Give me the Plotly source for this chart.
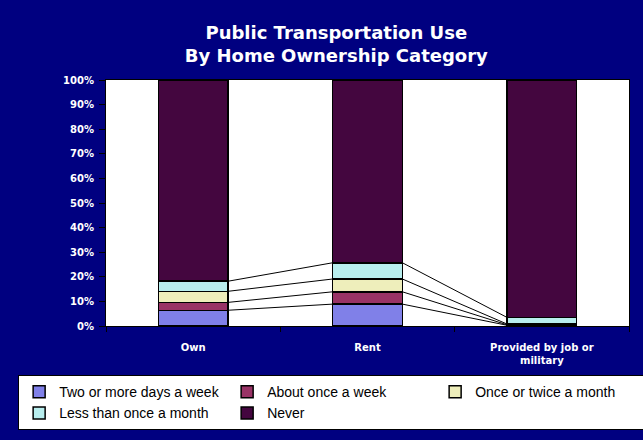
import plotly.graph_objects as go

categories = ["Own", "Rent", "Provided by job or<br>military"]
series_names = ["Two or more days a week", "About once a week",
                "Once or twice a month", "Less than once a month", "Never"]
two_or_more = [6.4, 8.9, 0.3]
once_a_week = [3.2, 5.0, 0.2]
once_twice_month = [4.5, 5.2, 0.3]
less_than_month = [4.1, 6.6, 2.7]
never = [81.8, 74.3, 96.5]

series_values = [two_or_more, once_a_week, once_twice_month, less_than_month, never]
colors = ["#8080E8", "#993366", "#EEEEBB", "#B8EEEE", "#44063F"]
y_ticks = list(range(0, 101, 10))
bar_width = 0.4

x_pos = list(range(len(categories)))

fig = go.Figure()
for name, vals, col in zip(series_names, series_values, colors):
    fig.add_trace(go.Bar(
        x=x_pos, y=vals, name=name, width=bar_width,
        marker=dict(color=col, line=dict(color="black", width=1.5)),
    ))

# Excel-style series lines joining the tops of each segment
cum = [0.0] * len(categories)
for vals in series_values[:-1]:
    cum = [c + v for c, v in zip(cum, vals)]
    for i in range(len(categories) - 1):
        fig.add_trace(go.Scatter(
            x=[x_pos[i] + bar_width / 2, x_pos[i + 1] - bar_width / 2],
            y=[cum[i], cum[i + 1]],
            mode="lines", line=dict(color="black", width=1),
            showlegend=False, hoverinfo="skip",
        ))

bold = "DejaVu Sans"

fig.update_layout(
    width=643, height=440,
    barmode="stack",
    paper_bgcolor="#000080",
    plot_bgcolor="white",
    margin=dict(l=106, r=14, t=80, b=114, autoexpand=False),
    title=dict(
        text="<b>Public Transportation Use<br>By Home Ownership Category</b>",
        x=0.523, xanchor="center", y=0.912, yanchor="top",
        font=dict(family=bold, size=18, color="white"),
    ),
    font=dict(family=bold),
    legend=dict(
        orientation="h", xref="paper", yref="paper",
        x=-0.168, xanchor="left", y=-0.2, yanchor="top",
        bgcolor="white", bordercolor="black", borderwidth=1,
        font=dict(family="Liberation Sans", size=14, color="black"),
        entrywidth=163, entrywidthmode="pixels", itemwidth=30,
        traceorder="normal",
    ),
    xaxis=dict(
        range=[-0.5, 2.5],
        tickvals=x_pos, ticktext=["<b>%s</b>" % c for c in categories],
        tickfont=dict(size=10, color="white"),
        ticks="", showgrid=False, ticklabelstandoff=12,
        showline=True, linecolor="black", linewidth=1, mirror=True,
        minor=dict(tickvals=[-0.5, 0.5, 1.5, 2.5], ticks="outside",
                   ticklen=5, tickcolor="black"),
    ),
    yaxis=dict(
        range=[0, 100],
        tickvals=y_ticks, ticktext=["<b>%d%%</b>" % t for t in y_ticks],
        tickfont=dict(size=10, color="white"),
        ticks="outside", ticklen=6, tickcolor="black", ticklabelstandoff=3,
        showgrid=False, zeroline=False,
        showline=True, linecolor="black", linewidth=1, mirror=True,
    ),
)

fig.write_html("out.html", config={"displayModeBar": False},
               post_script="document.body.style.margin='0px';")
